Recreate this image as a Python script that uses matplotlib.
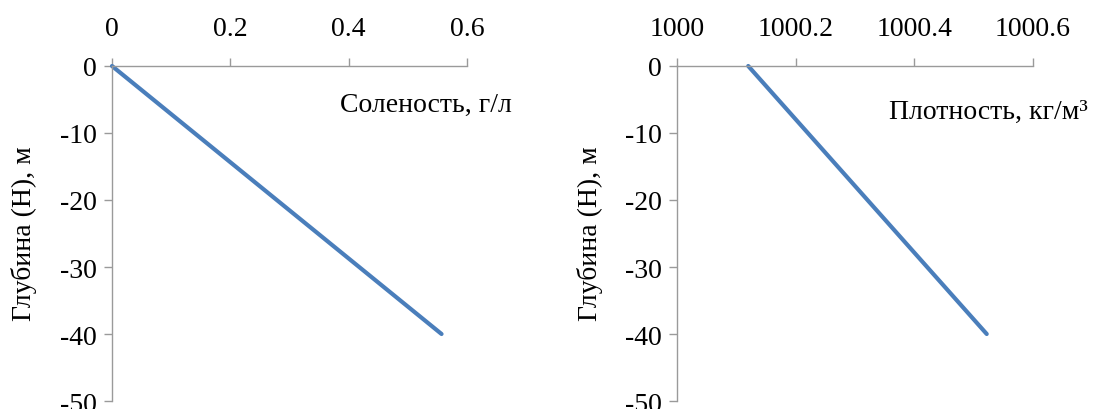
import matplotlib
matplotlib.use("Agg")
import matplotlib.pyplot as plt
from matplotlib.ticker import FuncFormatter, FixedLocator

plt.rcParams['font.family'] = ['Liberation Serif', 'DejaVu Serif']
plt.rcParams['axes.unicode_minus'] = False

depth = [0, -40]
salinity = [0.0, 0.557]
density = [1000.12, 1000.522]

sal_ticks = [0, 0.2, 0.4, 0.6]
den_ticks = [1000, 1000.2, 1000.4, 1000.6]
depth_ticks = [0, -10, -20, -30, -40, -50]

line_color = '#4A7EBB'
spine_color = '#9A9A9A'
fs = 20

fig = plt.figure(figsize=(10.98, 4.10), dpi=100)
ax1 = fig.add_axes([0.102, 0.0195, 0.3233, 0.8171])
ax2 = fig.add_axes([0.6166, 0.0195, 0.3242, 0.8171])

def fmt(v, pos):
    s = ('%.1f' % v)
    if s.endswith('.0'):
        s = s[:-2]
    return s

for ax, x, xt, xl in [(ax1, salinity, sal_ticks, (0, 0.6)),
                      (ax2, density, den_ticks, (1000, 1000.6))]:
    ax.plot(x, depth, color=line_color, lw=3.0, solid_capstyle='round', clip_on=False)
    ax.set_xlim(*xl)
    ax.set_ylim(-50, 0)
    ax.xaxis.set_major_locator(FixedLocator(xt))
    ax.yaxis.set_major_locator(FixedLocator(depth_ticks))
    ax.xaxis.set_major_formatter(FuncFormatter(fmt))
    ax.yaxis.set_major_formatter(FuncFormatter(lambda v, p: '%d' % v))
    ax.xaxis.tick_top()
    for s in ['right', 'bottom']:
        ax.spines[s].set_visible(False)
    for s in ['left', 'top']:
        ax.spines[s].set_color(spine_color)
        ax.spines[s].set_linewidth(1.0)
    ax.tick_params(axis='x', direction='out', length=6, width=1.0, color=spine_color,
                   labelsize=fs, pad=12)
    ax.tick_params(axis='y', direction='out', length=6, width=1.0, color=spine_color,
                   labelsize=fs, pad=5)
    ax.set_facecolor('none')

fig.text(0.022, 0.43, 'Глубина (Н), м', rotation=90, fontsize=fs, ha='center', va='center')
fig.text(0.537, 0.43, 'Глубина (Н), м', rotation=90, fontsize=fs, ha='center', va='center')
fig.text(0.3095, 0.744, 'Соленость, г/л', fontsize=fs, ha='left', va='center')
fig.text(0.8096, 0.725, 'Плотность, кг/м³', fontsize=fs, ha='left', va='center')

fig.savefig('out.png', dpi=100)
